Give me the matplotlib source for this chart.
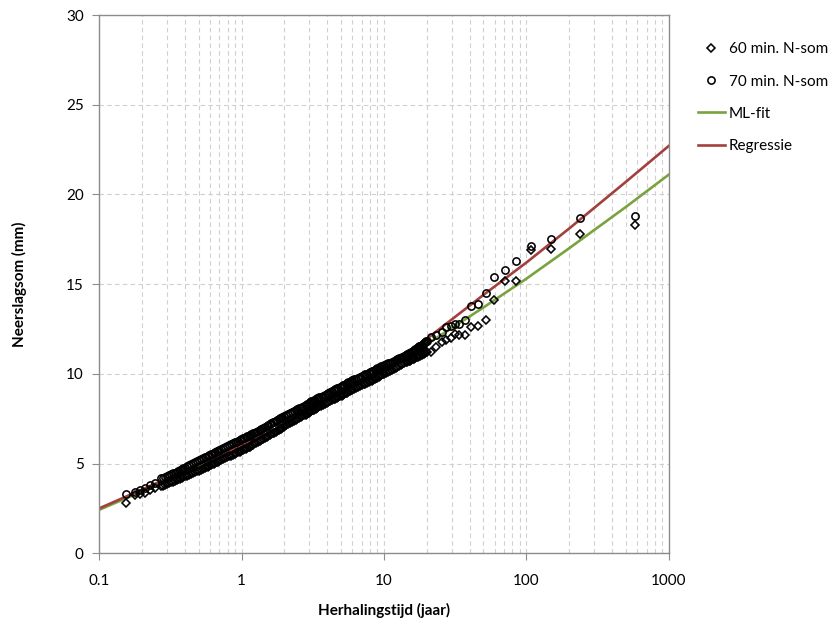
import numpy as np
import matplotlib.pyplot as plt
from matplotlib.ticker import FixedLocator, NullFormatter

plt.rcParams['font.family'] = ['Lato', 'DejaVu Sans']

# return periods (years) of the plotted points, shared by both series (ascending)
t_points = [0.155, 0.179, 0.194, 0.21, 0.228, 0.247,
            0.27, 0.28, 0.29, 0.30, 0.31, 0.32, 0.33, 0.34, 0.35, 0.36, 0.37, 0.38, 0.39, 0.40,
            0.415, 0.43, 0.445, 0.46, 0.475, 0.49, 0.505, 0.52, 0.535, 0.55,
            0.565, 0.58, 0.595, 0.61, 0.625, 0.64, 0.655, 0.67, 0.685, 0.70,
            0.72, 0.745, 0.77, 0.795, 0.82, 0.845, 0.87, 0.895, 0.92, 0.945,
            0.97, 0.995, 1.02, 1.045, 1.07, 1.095, 1.12, 1.145, 1.17, 1.195,
            1.22, 1.26, 1.30, 1.34, 1.38, 1.42, 1.46, 1.50, 1.54, 1.58,
            1.62, 1.66, 1.70, 1.74, 1.78, 1.82, 1.86, 1.90, 1.94, 1.98,
            2.05, 2.12, 2.19, 2.26, 2.33, 2.40, 2.47, 2.54, 2.61, 2.68, 2.75,
            2.82, 2.89, 2.96, 3.03, 3.10, 3.17, 3.24, 3.31, 3.38, 3.45, 3.52,
            3.60, 3.72, 3.84, 3.96, 4.08, 4.20, 4.32, 4.44, 4.56, 4.68,
            4.80, 4.92, 5.04, 5.16, 5.28, 5.40, 5.52, 5.64, 5.76, 5.88,
            6.0, 6.2, 6.4, 6.6, 6.8, 7.0, 7.2, 7.4, 7.6, 7.8,
            8.0, 8.2, 8.4, 8.6, 8.8, 9.0, 9.2, 9.4, 9.6, 9.8,
            10.0, 10.35, 10.7, 11.05, 11.4, 11.75, 12.1, 12.45, 12.8, 13.15,
            13.5, 13.85, 14.2, 14.55, 14.9, 15.25, 15.6, 15.95, 16.3, 16.65,
            17.0, 17.35, 17.7, 18.05, 18.4, 18.75, 19.1, 19.45, 19.8, 20.15,
            21.6, 23.2, 25.4, 27.2, 29.4, 31.5, 33.7, 37.0, 41.0, 45.9,
            51.8, 59.8, 70.6, 84.4, 108, 148, 237, 581]

# 60 min. N-som (mm)
n60 = [2.79, 3.25, 3.30, 3.38, 3.50, 3.65,
       3.73, 3.77, 3.82, 3.86, 3.90, 3.95, 3.99, 4.03, 4.08, 4.12, 4.16, 4.21, 4.25, 4.29,
       4.31, 4.36, 4.41, 4.46, 4.51, 4.56, 4.61, 4.65, 4.70, 4.74,
       4.79, 4.83, 4.87, 4.91, 4.95, 4.99, 5.03, 5.07, 5.10, 5.14,
       5.20, 5.25, 5.30, 5.35, 5.40, 5.44, 5.49, 5.53, 5.58, 5.62,
       5.66, 5.70, 5.75, 5.79, 5.83, 5.87, 5.91, 5.95, 6.00, 6.05,
       6.12, 6.17, 6.23, 6.28, 6.34, 6.39, 6.44, 6.49, 6.54, 6.59,
       6.64, 6.69, 6.73, 6.78, 6.82, 6.87, 6.91, 6.95, 7.00, 7.04,
       7.15, 7.21, 7.27, 7.32, 7.38, 7.43, 7.48, 7.53, 7.58, 7.63, 7.68,
       7.73, 7.78, 7.83, 7.87, 7.92, 7.96, 8.01, 8.05, 8.10, 8.14, 8.19,
       8.22, 8.28, 8.33, 8.39, 8.44, 8.49, 8.54, 8.58, 8.62, 8.67,
       8.71, 8.75, 8.79, 8.83, 8.87, 8.91, 8.95, 8.99, 9.04, 9.08,
       9.12, 9.17, 9.22, 9.27, 9.32, 9.37, 9.41, 9.46, 9.50, 9.55,
       9.59, 9.63, 9.67, 9.71, 9.75, 9.79, 9.84, 9.88, 9.93, 9.98,
       10.02, 10.07, 10.12, 10.18, 10.23, 10.28, 10.33, 10.38, 10.43, 10.49,
       10.54, 10.59, 10.64, 10.67, 10.71, 10.74, 10.78, 10.81, 10.85, 10.88,
       10.92, 10.95, 10.99, 11.02, 11.06, 11.09, 11.13, 11.16, 11.20, 11.23,
       11.24, 11.52, 11.80, 11.89, 11.99, 12.21, 12.17, 12.17, 12.64, 12.67,
       13.01, 14.12, 15.18, 15.18, 16.91, 16.98, 17.80, 18.30]

# 70 min. N-som (mm)
n70 = [3.31, 3.44, 3.54, 3.63, 3.82, 3.91,
       4.17, 4.22, 4.26, 4.31, 4.36, 4.40, 4.45, 4.50, 4.55, 4.59, 4.64, 4.69, 4.73, 4.78,
       4.88, 4.94, 4.99, 5.04, 5.10, 5.15, 5.20, 5.25, 5.30, 5.34,
       5.39, 5.43, 5.48, 5.52, 5.56, 5.60, 5.64, 5.68, 5.71, 5.75,
       5.82, 5.88, 5.93, 5.98, 6.03, 6.08, 6.13, 6.18, 6.22, 6.27,
       6.31, 6.36, 6.40, 6.44, 6.48, 6.52, 6.56, 6.60, 6.65, 6.70,
       6.72, 6.78, 6.84, 6.89, 6.95, 7.00, 7.05, 7.10, 7.15, 7.20,
       7.25, 7.30, 7.34, 7.39, 7.43, 7.48, 7.52, 7.56, 7.61, 7.65,
       7.69, 7.75, 7.81, 7.86, 7.92, 7.97, 8.02, 8.07, 8.12, 8.17, 8.22,
       8.27, 8.32, 8.37, 8.41, 8.46, 8.50, 8.55, 8.59, 8.64, 8.68, 8.73,
       8.73, 8.79, 8.84, 8.90, 8.95, 9.00, 9.05, 9.10, 9.14, 9.19,
       9.23, 9.28, 9.32, 9.36, 9.40, 9.44, 9.48, 9.52, 9.56, 9.60,
       9.64, 9.69, 9.74, 9.79, 9.84, 9.88, 9.92, 9.97, 10.01, 10.06,
       10.10, 10.14, 10.18, 10.22, 10.26, 10.30, 10.34, 10.38, 10.42, 10.46,
       10.48, 10.53, 10.58, 10.63, 10.67, 10.72, 10.77, 10.82, 10.86, 10.91,
       10.96, 11.00, 11.05, 11.09, 11.14, 11.19, 11.23, 11.28, 11.33, 11.38,
       11.43, 11.48, 11.53, 11.58, 11.62, 11.67, 11.72, 11.76, 11.81, 11.85,
       12.04, 12.17, 12.36, 12.64, 12.69, 12.77, 12.79, 13.01, 13.79, 13.88,
       14.49, 15.39, 15.79, 16.30, 17.13, 17.50, 18.67, 18.80]

# fitted curves
t_fit = [0.1, 0.2, 0.5, 1, 2, 5, 10, 20, 50, 100, 200, 500, 1000]
ml_fit = [2.42, 3.45, 4.85, 5.90, 7.05, 8.90, 10.20, 11.65, 13.70, 15.30, 17.00, 19.30, 21.10]
regressie = [2.50, 3.55, 4.95, 6.00, 7.15, 8.90, 10.30, 11.95, 14.40, 16.20, 18.10, 20.70, 22.70]

fig = plt.figure(figsize=(8.4, 6.28), dpi=100)
ax = fig.add_axes([0.118, 0.119, 0.678, 0.857])

ax.plot(t_fit, ml_fit, color='#7aa23f', lw=1.9, label='ML-fit', zorder=2)
ax.plot(t_fit, regressie, color='#a2403d', lw=1.9, label='Regressie', zorder=2)
ax.plot(t_points, n60, ls='none', marker='D', ms=3.7, mfc='none', mec='black', mew=1.15,
        label='60 min. N-som', zorder=3)
ax.plot(t_points, n70, ls='none', marker='o', ms=5.2, mfc='none', mec='black', mew=1.15,
        label='70 min. N-som', zorder=3)

ax.set_xscale('log')
ax.set_xlim(0.1, 1000)
ax.set_ylim(0, 30)
ax.xaxis.set_major_locator(FixedLocator([0.1, 1, 10, 100, 1000]))
ax.set_xticklabels(['0.1', '1', '10', '100', '1000'])
minors = [m * 10.0 ** e for e in range(-1, 3) for m in range(2, 10)]
ax.xaxis.set_minor_locator(FixedLocator(minors))
ax.xaxis.set_minor_formatter(NullFormatter())
ax.set_yticks(range(0, 31, 5))

ax.grid(True, which='both', axis='x', color='#d0d0d0', ls=(0, (4, 3)), lw=0.8)
ax.grid(True, which='major', axis='y', color='#d0d0d0', ls=(0, (4, 3)), lw=0.8)
ax.set_axisbelow(True)

for s in ax.spines.values():
    s.set_color('#8c8c8c')
    s.set_linewidth(1.0)
ax.tick_params(which='major', direction='out', length=5, color='#8c8c8c', labelsize=11, pad=6)
ax.tick_params(which='minor', length=0)
ax.tick_params(axis='x', pad=10)

ax.set_xlabel('Herhalingstijd (jaar)', fontsize=11, fontweight='bold', labelpad=11)
ax.set_ylabel('Neerslagsom (mm)', fontsize=11, fontweight='bold', labelpad=28)

h, l = ax.get_legend_handles_labels()
order = [2, 3, 0, 1]
fig.legend([h[i] for i in order], [l[i] for i in order], loc='upper left',
           bbox_to_anchor=(0.822, 0.945), frameon=False, fontsize=11,
           handlelength=1.75, handletextpad=0.25, labelspacing=1.2, borderpad=0)

fig.savefig('out.png', dpi=100)
